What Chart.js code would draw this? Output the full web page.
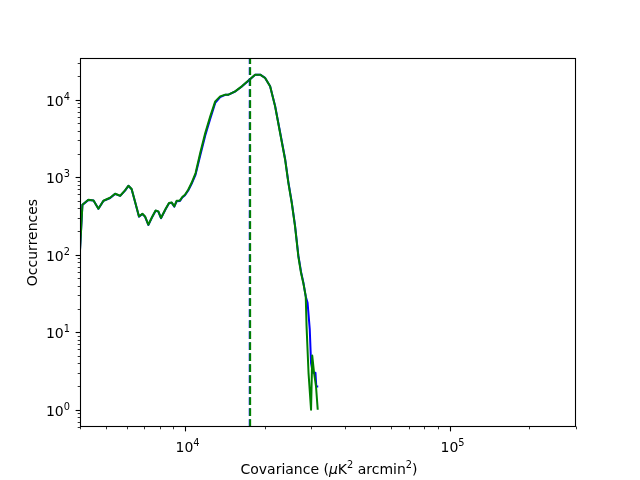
<!DOCTYPE html>
<html>
<head>
<meta charset="utf-8">
<script src="https://cdn.jsdelivr.net/npm/chart.js@4/dist/chart.umd.min.js"></script>
<style>
  html, body { margin: 0; padding: 0; background: #fff; }
  #wrap { width: 640px; height: 480px; }
</style>
</head>
<body>
<div id="wrap"><canvas id="chart" width="640" height="480"></canvas></div>
<script>
// ─── Data ──────────────────────────────────────────────────────────────

const covGreen = [3960, 4085, 4305, 4500, 4695, 4905, 5200, 5430, 5675, 5920,
  6095, 6270, 6455, 6685, 6885, 7045, 7250, 7510, 7725, 7910,
  8095, 8425, 8680, 8880, 9090, 9275, 9550, 9745, 9975, 10260,
  10560, 10940, 11390, 11900, 12430, 12980, 13550, 14160, 14570, 15440,
  16360, 17590, 18370, 19190, 20040, 20930, 21860, 22830, 23850, 24540,
  25270, 26000, 26760, 27400, 27950, 28540, 28740, 29240, 29890, 30200,
  30680, 31210, 31680];
const cntGreen = [60, 442, 512, 502, 392, 497, 544, 612, 577, 676,
  777, 704, 487, 312, 338, 312, 244, 312, 373, 362,
  298, 389, 465, 473, 420, 497, 502, 555, 594, 690,
  841, 1133, 2052, 3718, 6090, 9510, 11030, 11610, 11610, 12800,
  14860, 18500, 21030, 21030, 19050, 14860, 8200, 3718, 1683, 841,
  465, 232, 95, 58, 43, 29, 12, 3, 1, 5,
  3, 2, 1];

const covBlue = [3960, 4085, 4305, 4500, 4695, 4905, 5200, 5430, 5675, 5920,
  6095, 6270, 6455, 6685, 6885, 7045, 7250, 7510, 7725, 7910,
  8095, 8425, 8680, 8880, 9090, 9275, 9550, 9745, 9975, 10260,
  10560, 10940, 11390, 11900, 12430, 12980, 13550, 14160, 14570, 15440,
  16360, 17590, 18370, 19190, 20040, 20930, 21860, 22830, 23850, 24540,
  25270, 26000, 26760, 27400, 27950, 28540, 29000, 29550, 29890, 30350,
  31060, 31280, 31820];
const cntBlue = [60, 440, 510, 500, 392, 495, 540, 610, 575, 672,
  775, 700, 485, 310, 336, 310, 242, 310, 370, 360,
  296, 386, 460, 470, 418, 490, 495, 548, 585, 675,
  815, 1080, 1900, 3450, 5700, 9100, 10800, 11550, 11600, 12750,
  14800, 18400, 21000, 21030, 19100, 14950, 8300, 3800, 1720, 860,
  475, 238, 98, 60, 44, 29, 24, 11, 4, 3,
  3, 2, 2];

const medianGreen = 17590;
const medianBlue = 17530;

const xMin = 4000, xMax = 300000;
const yMin = 0.6, yMax = 34500;

const xLabel = ['Covariance (', 'μ', 'K', '2', ' arcmin', '2', ')'];
const yLabel = 'Occurrences';

const BLUE = '#0000ff';
const GREEN = '#008000';
const FONT = "'DejaVu Sans', sans-serif";

// ─── Helpers ───────────────────────────────────────────────────────────

function pts(xs, ys) {
  return xs.map((x, i) => ({ x, y: ys[i] }));
}

function vline(x) {
  return [{ x, y: yMin }, { x, y: yMax }];
}

// powers of ten with minor 2..9 ticks inside [lo, hi]
function logTicks(lo, hi) {
  const out = [];
  for (let e = Math.floor(Math.log10(lo)); e <= Math.ceil(Math.log10(hi)); e++) {
    for (let m = 1; m <= 9; m++) {
      const v = m * Math.pow(10, e);
      if (v >= lo * 0.9999 && v <= hi * 1.0001) out.push({ v, major: m === 1, e });
    }
  }
  return out;
}

function drawPow10(ctx, e, x, y, align) {
  ctx.font = '14px ' + FONT;
  const w1 = ctx.measureText('10').width;
  ctx.font = '9.8px ' + FONT;
  const w2 = ctx.measureText(String(e)).width;
  const w = w1 + w2;
  const x0 = align === 'center' ? x - w / 2 + 2 : x - w;
  ctx.textAlign = 'left';
  ctx.textBaseline = 'alphabetic';
  ctx.font = '14px ' + FONT;
  ctx.fillText('10', x0, y);
  ctx.font = '9.8px ' + FONT;
  ctx.fillText(String(e), x0 + w1, y - 6.5);
}

// ─── Matplotlib-style axes plugin ──────────────────────────────────────

const mplAxes = {
  id: 'mplAxes',
  afterDraw(chart) {
    const { ctx, chartArea: a, scales: { x, y } } = chart;
    ctx.save();
    ctx.strokeStyle = '#000';
    ctx.fillStyle = '#000';

    // frame
    ctx.lineWidth = 1.1;
    ctx.strokeRect(Math.round(a.left) + 0.5, Math.round(a.top) + 0.5,
      Math.round(a.right - a.left) - 1, Math.round(a.bottom - a.top) - 1);

    const bottom = Math.round(a.bottom) - 0.5;
    const left = Math.round(a.left) + 0.5;

    // x ticks
    for (const t of logTicks(xMin, xMax)) {
      const px = Math.round(x.getPixelForValue(t.v)) + 0.5;
      ctx.lineWidth = t.major ? 1.1 : 0.8;
      ctx.beginPath();
      ctx.moveTo(px, bottom);
      ctx.lineTo(px, bottom + (t.major ? 4.9 : 2.8));
      ctx.stroke();
      if (t.major) drawPow10(ctx, t.e, px, 452, 'center');
    }

    // y ticks
    for (const t of logTicks(yMin, yMax)) {
      const py = Math.round(y.getPixelForValue(t.v)) + 0.5;
      ctx.lineWidth = t.major ? 1.1 : 0.8;
      ctx.beginPath();
      ctx.moveTo(left, py);
      ctx.lineTo(left - (t.major ? 4.9 : 2.8), py);
      ctx.stroke();
      if (t.major) drawPow10(ctx, t.e, 70, py + 5.8, 'right');
    }

    // x title, built from pieces (italic mu, superscripts)
    const parts = xLabel.map((s, i) => {
      const sup = i === 3 || i === 5;
      const font = (i === 1 ? 'italic ' : '') + (sup ? '9.8px ' : '14px ') + FONT;
      ctx.font = font;
      return { s, font, sup, w: ctx.measureText(s).width };
    });
    const total = parts.reduce((acc, p) => acc + p.w, 0);
    let cx = (a.left + a.right) / 2 - total / 2 + 1;
    ctx.textAlign = 'left';
    for (const p of parts) {
      ctx.font = p.font;
      ctx.fillText(p.s, cx, p.sup ? 468 : 474);
      cx += p.w;
    }

    // y title
    ctx.translate(36.5, (a.top + a.bottom) / 2);
    ctx.rotate(-Math.PI / 2);
    ctx.font = '14px ' + FONT;
    ctx.textAlign = 'center';
    ctx.fillText(yLabel, 0, 0);
    ctx.restore();
  }
};

// ─── Chart ─────────────────────────────────────────────────────────────

const lineStyle = {
  showLine: true,
  pointRadius: 0,
  borderWidth: 2,
  tension: 0,
  borderJoinStyle: 'round',
  clip: 0,
};

new Chart(document.getElementById('chart').getContext('2d'), {
  type: 'scatter',
  data: {
    datasets: [
      { ...lineStyle, data: vline(medianGreen), borderColor: GREEN, borderDash: [7.7, 3.3], order: 0 },
      { ...lineStyle, data: vline(medianBlue), borderColor: BLUE, borderDash: [7.7, 3.3], order: 1 },
      { ...lineStyle, data: pts(covGreen, cntGreen), borderColor: GREEN, order: 2 },
      { ...lineStyle, data: pts(covBlue, cntBlue), borderColor: BLUE, order: 3 },
    ]
  },
  options: {
    responsive: false,
    animation: false,
    events: [],
    layout: { padding: { left: 80, right: 64, top: 58, bottom: 53 } },
    plugins: { legend: { display: false }, tooltip: { enabled: false } },
    scales: {
      x: { type: 'logarithmic', min: xMin, max: xMax, display: false },
      y: { type: 'logarithmic', min: yMin, max: yMax, display: false },
    },
  },
  plugins: [mplAxes],
});
</script>
</body>
</html>
